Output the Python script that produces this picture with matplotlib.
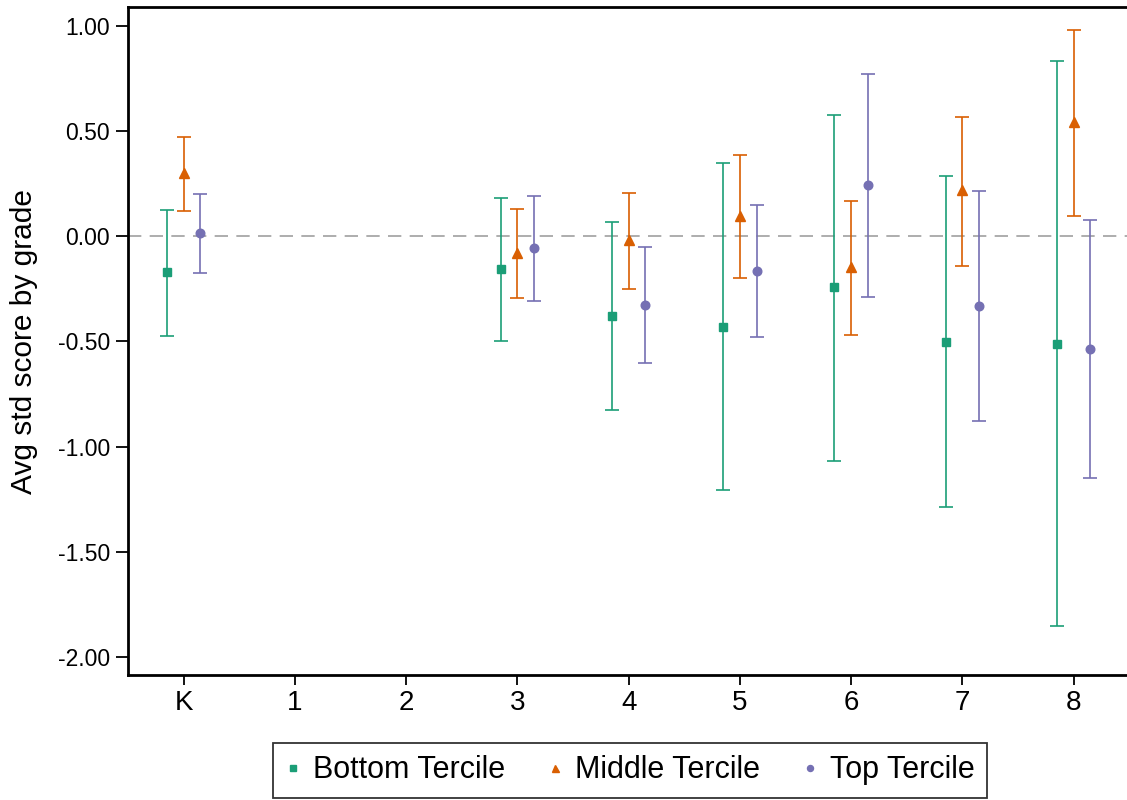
import numpy as np
import matplotlib
matplotlib.use('Agg')
import matplotlib.pyplot as plt
from matplotlib.lines import Line2D

plt.rcParams['font.family'] = ['Liberation Sans', 'DejaVu Sans']
plt.rcParams['axes.unicode_minus'] = False

# Grades and tercile estimates (grades 1 and 2 have no data)
grades = ['K', '1', '2', '3', '4', '5', '6', '7', '8']
nan = np.nan

bottom_est = [-0.171, nan, nan, -0.157, -0.379, -0.431, -0.244, -0.503, -0.513]
bottom_lo = [-0.475, nan, nan, -0.499, -0.826, -1.205, -1.068, -1.286, -1.851]
bottom_hi = [0.123, nan, nan, 0.182, 0.067, 0.345, 0.575, 0.285, 0.831]

middle_est = [0.300, nan, nan, -0.081, -0.019, 0.095, -0.146, 0.218, 0.542]
middle_lo = [0.120, nan, nan, -0.293, -0.253, -0.201, -0.470, -0.141, 0.095]
middle_hi = [0.470, nan, nan, 0.127, 0.206, 0.386, 0.168, 0.567, 0.980]

top_est = [0.014, nan, nan, -0.058, -0.328, -0.166, 0.241, -0.332, -0.536]
top_lo = [-0.176, nan, nan, -0.309, -0.602, -0.478, -0.288, -0.878, -1.149]
top_hi = [0.200, nan, nan, 0.189, -0.054, 0.147, 0.770, 0.214, 0.077]

series = [
    ('Bottom Tercile', bottom_est, bottom_lo, bottom_hi, '#1b9e77', 's', 6.0, -0.15),
    ('Middle Tercile', middle_est, middle_lo, middle_hi, '#d95f02', '^', 7.2, 0.0),
    ('Top Tercile', top_est, top_lo, top_hi, '#7570b3', 'o', 6.2, 0.15),
]

fig = plt.figure(figsize=(11.27, 8), dpi=100)
ax = fig.add_axes([0.1136, 0.156, 0.8884, 0.835])

x = np.arange(len(grades))
ax.axhline(0, color='#a0a0a0', linestyle=(0, (8, 5)), linewidth=1.2, zorder=1)

handles = []
for name, est, lo, hi, col, mk, ms, off in series:
    est = np.array(est)
    yerr = np.vstack([est - np.array(lo), np.array(hi) - est])
    ax.errorbar(x + off, est, yerr=yerr, fmt=mk, color=col, ecolor=col,
                markersize=ms, elinewidth=1.2, capsize=5, capthick=1.2,
                zorder=3)
    handles.append(Line2D([], [], linestyle='none', marker=mk, color=col,
                          markersize=ms * 0.7, label=name))

ax.set_xlim(-0.5, 8.5)
ax.set_ylim(-2.085, 1.087)
ax.set_xticks(x)
ax.set_xticklabels(grades)
yticks = [1.0, 0.5, 0.0, -0.5, -1.0, -1.5, -2.0]
ax.set_yticks(yticks)
ax.set_yticklabels([f'{v:.2f}' for v in yticks])
ax.tick_params(axis='y', labelsize=16.5, length=9, width=1.3, pad=4)
ax.tick_params(axis='x', labelsize=20, length=7, width=1.3, pad=4)
ax.set_ylabel('Avg std score by grade', fontsize=21.5, labelpad=14)

for s in ['left', 'bottom', 'top']:
    ax.spines[s].set_linewidth(2)
ax.spines['right'].set_visible(False)

leg = fig.legend(handles=handles, loc='center', bbox_to_anchor=(0.559, 0.037),
                 ncol=3, fontsize=22, frameon=True, fancybox=False,
                 edgecolor='black', handlelength=0.5, handletextpad=0.4,
                 columnspacing=1.4, borderpad=0.4, borderaxespad=0)
leg.get_frame().set_linewidth(1.3)

fig.savefig('out.png', dpi=100)
